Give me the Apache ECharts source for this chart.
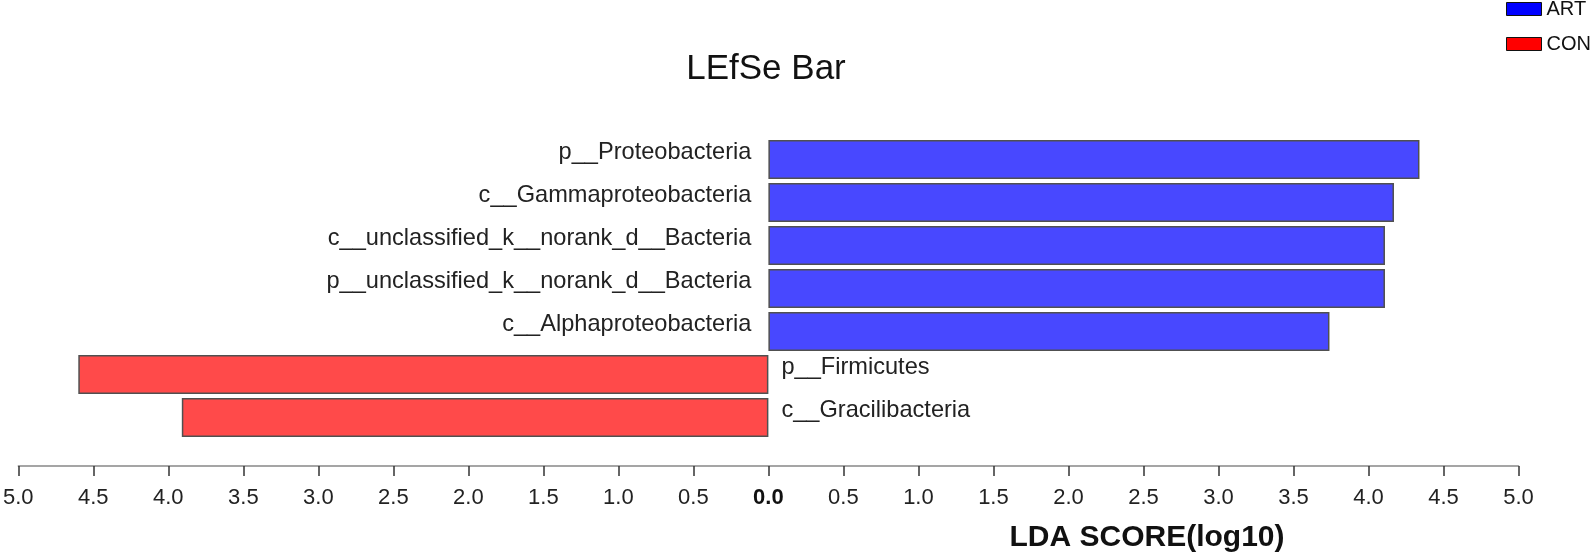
<!DOCTYPE html>
<html>
<head>
<meta charset="utf-8">
<script src="https://cdn.jsdelivr.net/npm/echarts@6/dist/echarts.min.js"></script>
<style>
html,body{margin:0;padding:0;background:#fff;}
#chart{width:1594px;height:553px;}
</style>
</head>
<body>
<div id="chart"></div>
<script>
var categories = [
  'p__Proteobacteria',
  'c__Gammaproteobacteria',
  'c__unclassified_k__norank_d__Bacteria',
  'p__unclassified_k__norank_d__Bacteria',
  'c__Alphaproteobacteria',
  'p__Firmicutes',
  'c__Gracilibacteria'
];
var artValues = [4.34, 4.17, 4.11, 4.11, 3.74, null, null];
var conValues = [null, null, null, null, null, -4.60, -3.91];
var groups = ['ART', 'CON'];

var FONT = 'Liberation Sans, Arial, sans-serif';
var chart = echarts.init(document.getElementById('chart'));
chart.setOption({
  animation: false,
  backgroundColor: '#ffffff',
  title: [
    { text: 'LEfSe Bar', left: 761, top: 47, textAlign: 'center',
      textStyle: { fontFamily: FONT, fontSize: 35, fontWeight: 'normal', color: '#111' } },
    { text: 'LDA SCORE(log10)', left: 1142, top: 518, textAlign: 'center',
      textStyle: { fontFamily: FONT, fontSize: 30, fontWeight: 'bold', color: '#111' } }
  ],
  legend: {
    orient: 'vertical', left: 1506, top: -1, padding: 0,
    itemWidth: 35, itemHeight: 13, itemGap: 15,
    icon: 'rect',
    textStyle: { fontFamily: FONT, fontSize: 20, color: '#111' },
    data: [
      { name: groups[0], itemStyle: { color: '#0000ff', borderColor: '#111', borderWidth: 1 } },
      { name: groups[1], itemStyle: { color: '#ff0000', borderColor: '#111', borderWidth: 1 } }
    ]
  },
  grid: { left: 16, right: 75.5, top: 138, height: 301, containLabel: false },
  xAxis: {
    type: 'value', min: -5, max: 5, interval: 0.5,
    offset: 27,
    axisLine: { show: true, lineStyle: { color: '#888', width: 1.5 } },
    axisTick: { show: true, length: 10, lineStyle: { color: '#333', width: 1.5 } },
    splitLine: { show: false },
    axisLabel: {
      margin: 21,
      fontFamily: FONT, fontSize: 22, color: '#222',
      formatter: function (v) {
        var s = Math.abs(v).toFixed(1);
        return v === 0 ? '{b|' + s + '}' : s;
      },
      rich: { b: { fontFamily: FONT, fontSize: 22, fontWeight: 'bold', color: '#111' } }
    }
  },
  yAxis: {
    type: 'category', data: categories, inverse: true, show: false
  },
  series: [
    {
      name: groups[0], type: 'bar', stack: 'lda', data: artValues,
      barWidth: 39,
      itemStyle: { color: '#4848ff', borderColor: '#505050', borderWidth: 1.5 },
      label: { show: true, position: 'left', distance: 17, offset: [0, -7],
        formatter: '{b}', fontFamily: FONT, fontSize: 23.6, color: '#222' }
    },
    {
      name: groups[1], type: 'bar', stack: 'lda', data: conValues,
      barWidth: 39,
      itemStyle: { color: '#ff4a4a', borderColor: '#505050', borderWidth: 1.5 },
      label: { show: true, position: 'right', distance: 13, offset: [0, -7],
        formatter: '{b}', fontFamily: FONT, fontSize: 23.6, color: '#222' }
    }
  ]
});
</script>
</body>
</html>
